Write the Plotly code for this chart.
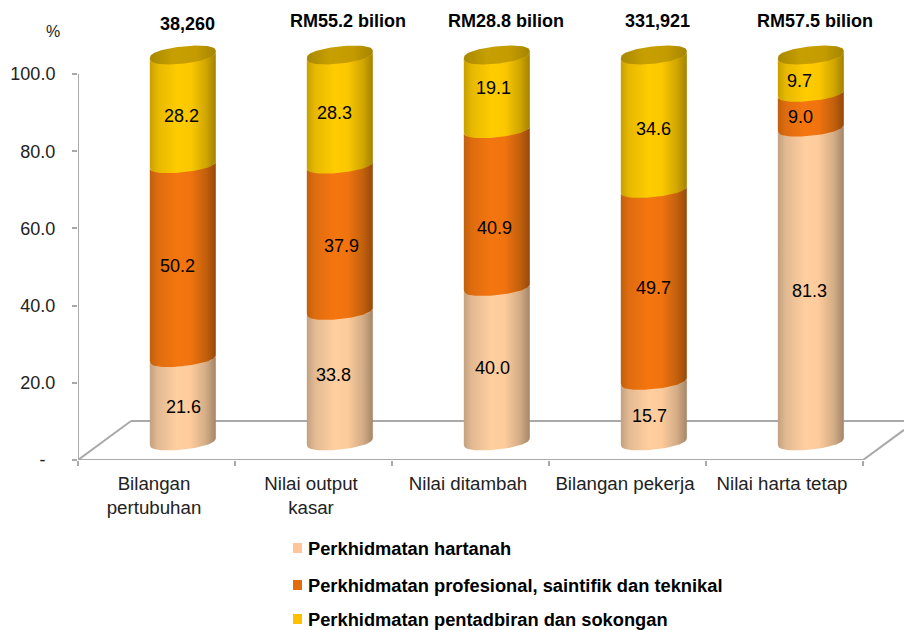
import numpy as np
import plotly.graph_objects as go

categories = ["Bilangan<br>pertubuhan", "Nilai output<br>kasar", "Nilai ditambah", "Bilangan pekerja", "Nilai harta tetap"]
totals = ["38,260", "RM55.2 bilion", "RM28.8 bilion", "331,921", "RM57.5 bilion"]
series_names = ["Perkhidmatan hartanah", "Perkhidmatan profesional, saintifik dan teknikal", "Perkhidmatan pentadbiran dan sokongan"]
hartanah = [21.6, 33.8, 40.0, 15.7, 81.3]
profesional = [50.2, 37.9, 40.9, 49.7, 9.0]
pentadbiran = [28.2, 28.3, 19.1, 34.6, 9.7]
y_ticks = [0, 20, 40, 60, 80, 100]
y_tick_labels = ["-\u00a0\u00a0", "20.0", "40.0", "60.0", "80.0", "100.0"]

# style and layout constants
FONT = "Liberation Sans"
PX_X, PX_Y = 157.0, 3.86           # pixels per axis unit
DX, DY = 26.3 / PX_X, 19 / PX_Y    # pseudo-3D depth offset of the cylinders
A, B, TILT = 33 / PX_X, 8.6 / PX_Y, 3.4 / PX_Y
GREY = "#a9a9a9"
grads = [
    [[0, "#c2a181"], [0.12, "#e2b992"], [0.42, "#ffcfa0"], [0.62, "#fdcb9c"], [0.85, "#d3ac86"], [1, "#a58668"]],
    [[0, "#c0600c"], [0.12, "#de6c0f"], [0.42, "#f5760f"], [0.62, "#f0730f"], [0.85, "#c2600d"], [1, "#97490a"]],
    [[0, "#c8a000"], [0.12, "#e6b800"], [0.42, "#ffcc00"], [0.62, "#fbc800"], [0.85, "#d0a600"], [1, "#a38200"]],
]
cap_grad = [[0, "#a88800"], [0.35, "#c79f00"], [0.7, "#c49c00"], [1, "#a58400"]]
legend_colors = ["#fcc59a", "#e36c0a", "#ffc000"]
label_dx = [[1, -5, -1], [-6, 2, -5], [-4, -2, -3], [-4, 0, 0], [-1, -10, -11]]
label_dy = [[8, 5, 7], [-1, 9, 3], [4, 20, -4], [5, 4, 7], [7, 7, 7]]
head_dx = [5, 8, 9, 4, 4]
head_y = [113.0, 113.8, 113.8, 113.8, 113.8]
legend_rows = [548, 585, 619]      # picture rows of the hand-placed legend keys

series = [hartanah, profesional, pentadbiran]
fig = go.Figure()

t = np.linspace(0, np.pi, 61)
def arc(cx, v):
    # front half of the tilted, slightly squared ellipse, right to left
    return cx + A * np.cos(t), v + TILT * np.cos(t) - B * np.sin(t) ** 0.75

n = len(categories)
bottom = [0.0] * n
for s, vals in enumerate(series):
    fig.add_trace(go.Bar(
        x=[i + DX for i in range(n)], y=vals, base=[b + DY for b in bottom],
        width=62 / PX_X, marker=dict(color=legend_colors[s], line_width=0),
        name=series_names[s], showlegend=False, hoverinfo="skip"))
    bottom = [b + v for b, v in zip(bottom, vals)]

bottom = [0.0] * n
for s, vals in enumerate(series):
    for i, v in enumerate(vals):
        cx = i + DX
        x0, y0 = arc(cx, bottom[i] + DY)
        x1, y1 = arc(cx, bottom[i] + v + DY)
        fig.add_trace(go.Scatter(
            x=np.r_[x0[::-1], x1], y=np.r_[y0[::-1], y1], mode="lines", line_width=0,
            fill="toself", fillgradient=dict(type="horizontal", colorscale=grads[s]),
            showlegend=False, hoverinfo="skip"))
        fig.add_annotation(x=cx, y=bottom[i] + v / 2 + DY, text=f"{v:.1f}", showarrow=False,
                           xshift=label_dx[i][s], yshift=-label_dy[i][s],
                           font=dict(family=FONT, size=18, color="#000"))
    bottom = [b + v for b, v in zip(bottom, vals)]

# top caps
tt = np.linspace(0, 2 * np.pi, 121)
for i, total in enumerate(bottom):
    cx = i + DX
    fig.add_trace(go.Scatter(
        x=cx + A * np.cos(tt),
        y=total + DY + TILT * np.cos(tt) - B * np.sign(np.sin(tt)) * np.abs(np.sin(tt)) ** 0.75,
        mode="lines", line_width=0, fill="toself",
        fillgradient=dict(type="horizontal", colorscale=cap_grad),
        showlegend=False, hoverinfo="skip"))

for i, txt in enumerate(totals):
    fig.add_annotation(x=i + DX, y=head_y[i], text=f"<b>{txt}</b>", showarrow=False, xshift=head_dx[i],
                       font=dict(family=FONT, size=18, color="#000"))
fig.add_annotation(xref="paper", x=-0.041, y=111, text="%", showarrow=False,
                   font=dict(family=FONT, size=16, color="#222"))

line = dict(color=GREY, width=2)
floor_x0, floor_x1 = -0.5, 4.5
back_y = 10.1
shapes = [
    dict(type="line", x0=floor_x0, x1=floor_x0, y0=0, y1=100, line=line, layer="below"),
    dict(type="line", x0=floor_x0, x1=floor_x1, y0=0, y1=0, line=line, layer="below"),
    dict(type="line", x0=floor_x0, x1=floor_x0 + 53 / PX_X, y0=0, y1=back_y, line=line, layer="below"),
    dict(type="line", x0=floor_x0 + 53 / PX_X, x1=4.761, y0=back_y, y1=back_y, line=line, layer="below"),
    dict(type="line", x0=floor_x1, x1=4.761, y0=0, y1=7.8, line=line, layer="below"),
]

# legend keys and labels (the library's legend cannot set the 5 px key-to-text gap)
def px_x(p): return (p - 78) / 826
def px_y(p): return (460 - p) / 450
for row, color, name in zip(legend_rows, legend_colors, series_names):
    shapes.append(dict(type="rect", xref="paper", yref="paper", x0=px_x(293), x1=px_x(302),
                       y0=px_y(row + 5), y1=px_y(row - 5), fillcolor=color, line_width=0))
    fig.add_annotation(xref="paper", yref="paper", x=px_x(306), y=px_y(row), xanchor="left", yanchor="middle",
                       showarrow=False, text=f"<b>{name}</b>", font=dict(family=FONT, size=18.3, color="#000"))

fig.update_layout(
    width=904, height=630, margin=dict(l=78, r=0, t=10, b=170, autoexpand=False),
    paper_bgcolor="white", plot_bgcolor="white", barmode="overlay", shapes=shapes, showlegend=False,
    font=dict(family=FONT, color="#222"),
    xaxis=dict(range=[-0.5, 4.761], tickvals=[i - 0.016 for i in range(n)], ticktext=categories, ticks="",
               showgrid=False, zeroline=False, showline=False, tickfont=dict(size=18.7, color="#222"),
               ticklabelstandoff=10,
               minor=dict(tickmode="array", tickvals=[i - 0.5 for i in range(n + 1)], ticks="outside",
                          ticklen=5, tickcolor=GREY, tickwidth=2, showgrid=False)),
    yaxis=dict(range=[0, 450 / PX_Y], tickvals=y_ticks, ticktext=y_tick_labels, ticks="outside", ticklen=5,
               tickcolor=GREY, tickwidth=2, showgrid=False, zeroline=False, showline=False,
               ticklabelstandoff=13, tickfont=dict(size=18, color="#222")),
)
fig.write_html("out.html", config={"displayModeBar": False}, post_script="document.body.style.margin='0';")
